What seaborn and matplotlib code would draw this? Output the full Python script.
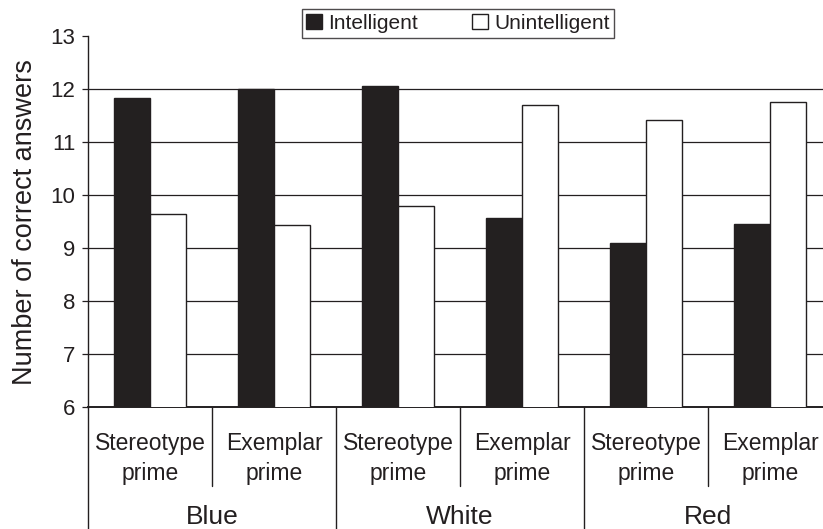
import matplotlib
matplotlib.use("Agg")
import matplotlib.pyplot as plt
import matplotlib.transforms as mtransforms
from matplotlib.patches import Patch
import seaborn as sns
import pandas as pd

# ---- data ----
groups = ["Blue", "White", "Red"]
primes = ["Stereotype\nprime", "Exemplar\nprime"]
traits = ["Intelligent", "Unintelligent"]
intelligent = [11.84, 12.00, 12.06, 9.57, 9.09, 9.45]
unintelligent = [9.64, 9.44, 9.79, 11.69, 11.41, 11.75]
yticks = [6, 7, 8, 9, 10, 11, 12, 13]

conds = [f"{g}|{p}" for g in groups for p in primes]
rows = []
for c, vi, vu in zip(conds, intelligent, unintelligent):
    rows.append({"cond": c, "trait": traits[0], "value": vi})
    rows.append({"cond": c, "trait": traits[1], "value": vu})
df = pd.DataFrame(rows)

INK = "#231f20"
sns.set_style("white")
plt.rcParams["font.family"] = ["Liberation Sans", "DejaVu Sans"]
plt.rcParams["text.color"] = INK

fig = plt.figure(figsize=(8.23, 5.29), dpi=100)
ax = fig.add_axes([88 / 823, (529 - 407.3) / 529, 744 / 823, 371.3 / 529])

sns.barplot(data=df, x="cond", y="value", hue="trait", order=conds,
            hue_order=traits, palette={traits[0]: INK, traits[1]: "white"},
            edgecolor=INK, linewidth=1.0, width=0.58, gap=0, ax=ax,
            legend=False, zorder=3)

ax.set_ylim(6, 13)
ax.set_xlim(-0.5, len(conds) - 0.5)
ax.set_yticks(yticks)
ax.set_yticklabels([str(t) for t in yticks], fontsize=16, color=INK)
ax.tick_params(axis="y", direction="out", length=4.5, width=0.9,
               color=INK, pad=4.5, left=True)
ax.tick_params(axis="x", length=0, labelbottom=False)
ax.set_xlabel("")
ax.set_ylabel("Number of correct answers", fontsize=19.5, color=INK,
              labelpad=9)

# horizontal grid lines (not at top)
ax.hlines(yticks[1:-1], -0.5, len(conds) - 0.5, colors=INK, linewidth=0.9,
          zorder=1)

for s in ["top", "right"]:
    ax.spines[s].set_visible(False)
ax.spines["left"].set_color(INK)
ax.spines["left"].set_linewidth(1.0)
ax.spines["bottom"].set_color(INK)
ax.spines["bottom"].set_linewidth(1.4)

# hierarchical category labels below
tr = mtransforms.blended_transform_factory(ax.transData, fig.transFigure)
def fy(px):
    return 1 - px / 529

for i, c in enumerate(conds):
    g, p = c.split("|")
    l1, l2 = p.split("\n")
    ax.text(i, fy(450), l1, transform=tr, ha="center", va="baseline",
            fontsize=16.5, color=INK)
    ax.text(i, fy(480), l2, transform=tr, ha="center", va="baseline",
            fontsize=16.5, color=INK)
for gi, g in enumerate(groups):
    ax.text(gi * 2 + 0.5, fy(524), g, transform=tr, ha="center",
            va="baseline", fontsize=19, color=INK)

for k in range(len(conds) + 1):
    x = k - 0.5
    bottom = fy(540) if k % 2 == 0 else fy(486)
    ax.plot([x, x], [fy(407.3), bottom], transform=tr, color=INK,
            linewidth=1.0, clip_on=False)

handles = [Patch(facecolor=INK, edgecolor=INK, label=traits[0]),
           Patch(facecolor="white", edgecolor=INK, linewidth=1.0,
                 label=traits[1])]
leg = fig.legend(handles=handles, loc="center",
                 bbox_to_anchor=(458 / 823, 1 - 23.5 / 529), ncol=2,
                 fontsize=15, frameon=True, fancybox=False,
                 edgecolor=INK, handlelength=0.75, handleheight=0.75,
                 handletextpad=0.3, columnspacing=2.6, borderpad=0.22,
                 borderaxespad=0)
leg.get_frame().set_linewidth(1.0)

fig.savefig("out.png", dpi=100)
